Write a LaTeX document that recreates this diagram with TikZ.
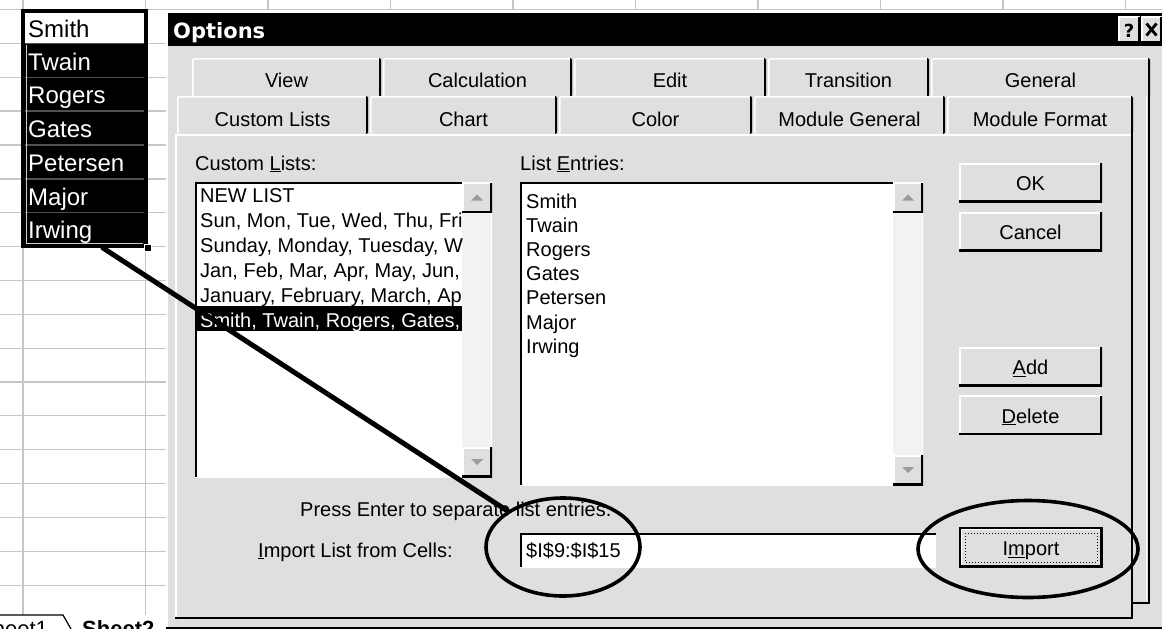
\documentclass[tikz,border=0pt]{standalone}
\usepackage{fontspec}
\setmainfont{Liberation Sans}
\newfontfamily\headfont{DejaVu Sans}
\usetikzlibrary{shapes.geometric}

\definecolor{dlggray}{HTML}{DFDFDF}
\definecolor{gridgray}{HTML}{C6C6C6}
\definecolor{rowline}{HTML}{505050}
\definecolor{track}{HTML}{F2F2F2}
\definecolor{arrowgray}{HTML}{9C9C9C}

\newcommand{\dlgsize}{\fontsize{20}{24}\selectfont}
\newcommand{\cellsize}{\fontsize{24}{28}\selectfont}

\tikzset{
  txt/.style={font=\dlgsize, inner sep=0pt, anchor=base west},
  celltxt/.style={font=\cellsize, inner sep=0pt, anchor=base west, text=white},
  raised/.style={fill=dlggray, inner sep=0pt, font=\dlgsize, text height=16.5, text depth=0pt,
    path picture={
      \draw[white, line width=3] (path picture bounding box.south west) |- (path picture bounding box.north east);
      \draw[black, line width=4] (path picture bounding box.south west) -| (path picture bounding box.north east);
    }},
  sunken/.style={fill=white, inner sep=0pt,
    path picture={
      \draw[white, line width=3] (path picture bounding box.south west) -| (path picture bounding box.north east);
      \draw[black, line width=4] (path picture bounding box.south west) |- (path picture bounding box.north east);
    }},
  tabbox/.style={fill=dlggray, rounded corners=2, inner sep=0pt, font=\dlgsize, text depth=0pt,
    path picture={
      \draw[white, line width=3] (path picture bounding box.south west) |- (path picture bounding box.north east);
      \draw[black, line width=4] (path picture bounding box.north east) -- (path picture bounding box.south east);
    }},
  backtab/.style={tabbox, minimum height=39, text height=19},
  fronttab/.style={tabbox, minimum height=38, text height=22},
  ring/.style={ellipse, draw=black, line width=3.6, inner sep=0pt},
  pointer/.style={draw=black, line width=5, line cap=round},
}

\begin{document}
\begin{tikzpicture}[x=1pt, y=-1pt]
  \useasboundingbox (0,0) rectangle (1162,629);
  \fill[white] (0,0) rectangle (1162,629);

  % worksheet grid
  \foreach \y in {9.5,43.4,77.2,111,145,179,212.7,246.6,280.4,314.3,348.1,382,415.8,449.7,483.5,517.4,551.2,585.1}
    \draw[gridgray, line width=1.2] (0,\y) -- (166,\y);
  \foreach \x in {23,145.5,268,390.5,513,635.5,758,880.5,1003,1125.5}
    \draw[gridgray, line width=1.2] (\x,0) -- (\x,10);
  \draw[gridgray, line width=1.2] (166,9.5) -- (1162,9.5);
  \draw[gridgray, line width=1.2] (23,0) -- (23,615);
  \draw[gridgray, line width=1.2] (145.5,0) -- (145.5,615);

  % selected cells
  \node[draw=black, fill=black, line width=4, minimum width=123, minimum height=235, inner sep=0pt] (range) at (84.5,128.5) {};
  \fill[white] (25,13) rectangle (144,43);
  \foreach \y in {43.4,77.2,111,145,179,212.7}
    \draw[rowline, line width=1.2] (25,\y) -- (144,\y);
  \draw[white!80!black, line width=0.8] (26.5,45) -- (26.5,243.5) -- (143,243.5);
  \node[celltxt, text=black] (smith) at (28,37) {Smith};
  \node[celltxt] (twain) at (28,70) {Twain};
  \node[celltxt] (rogers) at (28,103.5) {Rogers};
  \node[celltxt] (gates) at (28,137.5) {Gates};
  \node[celltxt] (petersen) at (28,171.5) {Petersen};
  \node[celltxt] (major) at (28,205) {Major};
  \node[celltxt] (irwing) at (28,238.5) {Irwing};
  \node[fill=black, draw=white, line width=0.8, minimum size=7, inner sep=0pt] (grip) at (range.south east) {};
  \coordinate (tail) at (103,248);

  % sheet tabs
  \draw[black, line width=1.2] (0,615) -- (63,615) -- (71,629);
  \node[font=\fontsize{22}{26}\selectfont, inner sep=0pt, anchor=base west] (sheet1) at (-22,636) {Sheet1};
  \node[font=\fontsize{22}{26}\selectfont\bfseries, inner sep=0pt, anchor=base west] (sheet2) at (82,636) {Sheet2};

  % dialog frame
  \fill[dlggray] (166,11) rectangle (1162,629);
  \draw[white, line width=1.5] (167,629) -- (167,11.75) -- (1162,11.75);
  \fill[black] (168,13) rectangle (1162,46);
  \node[font=\headfont\bfseries\fontsize{21}{25}\selectfont, text=white, inner sep=0pt, anchor=base west] (options) at (173,38) {Options};
  \node[raised, minimum width=22, minimum height=26, text height=15, font=\headfont\bfseries\fontsize{18}{20}\selectfont] (help) at (1129,29.5) {?};
  \node[raised, minimum width=21, minimum height=26] (close) at (1151.5,29.5) {};
  \draw[black, line width=2.8] ([shift={(-5,-6)}]close.center) -- ([shift={(5,6)}]close.center);
  \draw[black, line width=2.8] ([shift={(-5,6)}]close.center) -- ([shift={(5,-6)}]close.center);

  % back row of tabs
  \node[backtab, minimum width=189] (tview) at (286.5,77.5) {View};
  \node[backtab, minimum width=189] (tcalc) at (477.5,77.5) {Calculation};
  \node[backtab, minimum width=192] (tedit) at (670,77.5) {Edit};
  \node[backtab, minimum width=161] (ttrans) at (848.5,77.5) {Transition};
  \node[backtab, minimum width=219] (tgeneral) at (1040.5,77.5) {General};
  \draw[black, line width=2] (1149,90) -- (1149,603) -- (1133,603);
  \draw[white, line width=1.2] (1146.5,97) -- (1146.5,601);

  % front row of tabs
  \node[fronttab, minimum width=191] (tcustom) at (272.5,115) {Custom Lists};
  \node[fronttab, minimum width=187] (tchart) at (463.5,115) {Chart};
  \node[fronttab, minimum width=193] (tcolor) at (655.5,115) {Color};
  \node[fronttab, minimum width=191] (tmodgen) at (849.5,115) {Module General};
  \node[fronttab, minimum width=186] (tmodfmt) at (1040,115) {Module Format};
  \draw[white, line width=1.5] (175.75,617) -- (175.75,134.75) -- (1131,134.75);
  \draw[black, line width=2] (1132,128) -- (1132,618) -- (175,618);
  \draw[black, line width=2] (166,627.5) -- (1162,627.5);

  % custom lists box
  \node[txt] (customlbl) at (195,170) {Custom \underline{L}ists:};
  \node[sunken, minimum width=297, minimum height=295] (customlist) at (343.5,329.5) {};
  \fill[track] (462,184) rectangle (491,476);
  \node[raised, minimum width=30, minimum height=30] (up1) at (477,197.5) {};
  \node[raised, minimum width=30, minimum height=30] (down1) at (477,462) {};
  \fill[arrowgray] ([shift={(-6,3)}]up1.center) -- ([shift={(6,3)}]up1.center) -- ([shift={(0,-3)}]up1.center) -- cycle;
  \fill[arrowgray] ([shift={(-6,-3)}]down1.center) -- ([shift={(6,-3)}]down1.center) -- ([shift={(0,3)}]down1.center) -- cycle;
  \begin{scope}
    \clip (197,184) rectangle (462,476);
    \fill[black] (197,306) rectangle (462,331);
    \node[txt] (list1) at (200,202) {NEW LIST};
    \node[txt] (list2) at (200,227) {Sun, Mon, Tue, Wed, Thu, Fri,};
    \node[txt] (list3) at (200,252) {Sunday, Monday, Tuesday, W};
    \node[txt] (list4) at (200,277) {Jan, Feb, Mar, Apr, May, Jun,};
    \node[txt] (list5) at (200,302) {January, February, March, Apr};
    \node[txt, text=white] (list6) at (200,327) {Smith, Twain, Rogers, Gates,};
  \end{scope}

  % list entries box
  \node[txt] (entrylbl) at (520,170) {List \underline{E}ntries:};
  \node[sunken, minimum width=403, minimum height=303] (entrylist) at (721.5,333.5) {};
  \fill[track] (893,184) rectangle (922,484);
  \node[raised, minimum width=30, minimum height=30] (up2) at (908,197.5) {};
  \node[raised, minimum width=30, minimum height=30] (down2) at (908,470) {};
  \fill[arrowgray] ([shift={(-6,3)}]up2.center) -- ([shift={(6,3)}]up2.center) -- ([shift={(0,-3)}]up2.center) -- cycle;
  \fill[arrowgray] ([shift={(-6,-3)}]down2.center) -- ([shift={(6,-3)}]down2.center) -- ([shift={(0,3)}]down2.center) -- cycle;
  \node[txt] (entry1) at (526,208) {Smith};
  \node[txt] (entry2) at (526,232) {Twain};
  \node[txt] (entry3) at (526,256) {Rogers};
  \node[txt] (entry4) at (526,280.5) {Gates};
  \node[txt] (entry5) at (526,304.5) {Petersen};
  \node[txt] (entry6) at (526,329) {Major};
  \node[txt] (entry7) at (526,353) {Irwing};

  % buttons
  \node[raised, minimum width=143, minimum height=39] (ok) at (1030.5,182.5) {OK};
  \node[raised, minimum width=143, minimum height=39] (cancel) at (1030.5,231.5) {Cancel};
  \node[raised, minimum width=143, minimum height=39] (add) at (1030.5,366.5) {\underline{A}dd};
  \node[raised, minimum width=143, minimum height=39] (delete) at (1030.5,415) {\underline{D}elete};

  % import row
  \node[txt] (hint) at (300,516) {Press Enter to separate list entries.};
  \node[txt] (importlbl) at (258,557) {\underline{I}mport List from Cells:};
  \node[sunken, minimum width=416, minimum height=34] (cells) at (728,550) {};
  \node[txt] (cellref) at (526,557) {\$I\$9:\$I\$15};
  \node[raised, draw=black, line width=2, minimum width=142, minimum height=39] (import) at (1031,547.5) {I\underline{m}port};
  \draw[black, dotted, line width=1] ([shift={(6,6)}]import.north west) rectangle ([shift={(-6,-6)}]import.south east);

  % hand drawn marks
  \node[ring, minimum width=154, minimum height=98] (fieldring) at (563,547) {};
  \node[ring, minimum width=220, minimum height=97] (importring) at (1028,549) {};
  \path[pointer] (tail) edge (fieldring);
\end{tikzpicture}
\end{document}
